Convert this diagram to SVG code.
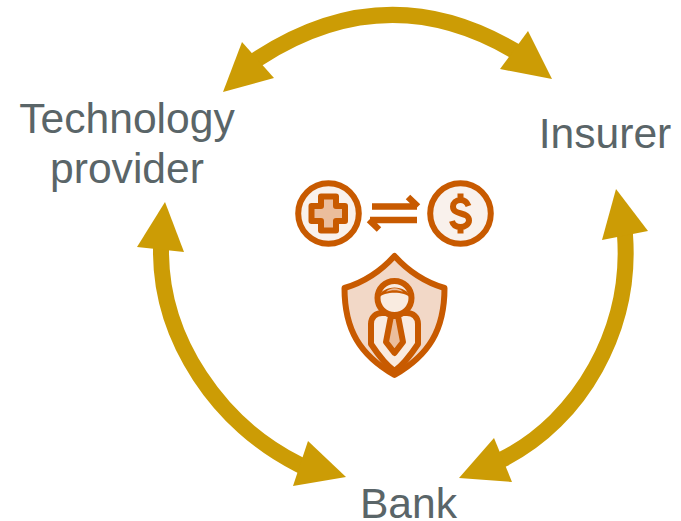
<svg xmlns="http://www.w3.org/2000/svg" width="681" height="521" viewBox="0 0 681 521">
<style>
.lbl{font-family:"Liberation Sans",Arial,sans-serif;font-size:42.6px;fill:#5a6568;text-anchor:middle}
.shaft{fill:none;stroke:#cc9c05;stroke-width:16}
.head{fill:#cc9c05}
.ic{stroke:#c85a00;stroke-width:6;stroke-linejoin:round;stroke-linecap:round}
</style>
<rect width="681" height="521" fill="#fff"/>
<g id="connectors">
<path class="shaft" d="M250 64L259 58Q386 -24 513 50L522 55"/>
<polygon class="head" points="223,92 242,42 274,78"/>
<polygon class="head" points="552,79 528,31 500,69"/>
<path class="shaft" d="M161 240V249C160 340 220 425 298 464L307 468.500"/>
<polygon class="head" points="165,202 137,247 184,252"/>
<polygon class="head" points="346,477 308,441 293,486"/>
<path class="shaft" d="M624.500 226L625 235C632 330 580 420 503 459L494 463.500"/>
<polygon class="head" points="616,189 648,231 602,240"/>
<polygon class="head" points="459,478 494,438 512,482"/>
</g>
<g id="technology-provider"><text class="lbl" x="127" y="132.500">Technology</text><text class="lbl" x="127" y="182.500">provider</text></g>
<g id="insurer"><text class="lbl" x="605" y="147.500">Insurer</text></g>
<g id="bank"><text class="lbl" x="408.500" y="518">Bank</text></g>
<g id="icon-exchange">
<circle class="ic" cx="328.500" cy="213.500" r="30.300" fill="#f9f1ec"/>
<path class="ic" fill="#ebbd9c" d="M321 196.500H336V206H345V221H336V230.500H321V221H311.500V206H321Z"/>
<circle class="ic" cx="460.500" cy="213.500" r="30.300" fill="#f9f1ec"/>
<path d="M468.500 206C467 202 464 200 460.500 200C456 200 453 203 453 206.500C453 216 469 211 469 220.500C469 224 465 227 460.500 227C456 227 453 225 452 221M460.500 193.500V200M460.500 227V233.500" fill="none" stroke="#c85a00" stroke-width="6"/>
<path d="M372 206.500H417M408 197L418 206.500M417 220H370M379 229.500L369 220" fill="none" stroke="#c85a00" stroke-width="6.500"/>
</g>
<g id="icon-shield">
<path class="ic" fill="#f2d8c7" d="M394.500 256C380 272 365 282 344.500 288C344.500 330 360 355 394.500 375C429 355 444.500 330 444.500 288C424 282 409 272 394.500 256Z"/>
<path class="ic" fill="#f9ebe0" d="M371 344V324C371 317 376 313 382 313H407C413 313 418 317 418 324V344C410 356 402 366 394.500 371C387 366 379 356 371 344Z"/>
<circle class="ic" cx="394.500" cy="298" r="17" fill="#f9ebe0"/>
<path d="M378 298C382 284 407 284 411 298C404 291 385 291 378 298Z" fill="#c85a00"/>
<path d="M386 292C390 287 399 287 403 292C398 289.500 391 289.500 386 292Z" fill="#ebbd9c"/>
<path class="ic" fill="#ebbd9c" stroke-width="5" d="M391 316H398L403 342L394.500 353L386 342Z"/>
</g>
</svg>
